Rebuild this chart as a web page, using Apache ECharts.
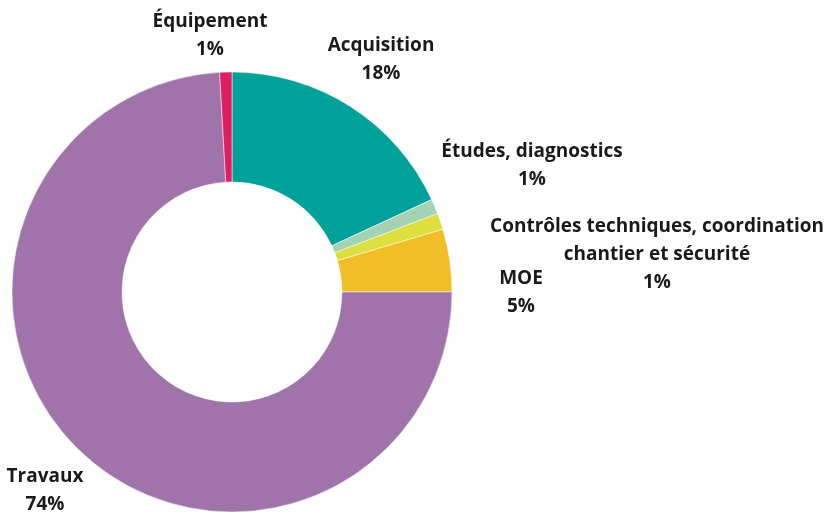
<!DOCTYPE html>
<html>
<head>
<meta charset="utf-8">
<script src="https://cdn.jsdelivr.net/npm/echarts@6/dist/echarts.min.js"></script>
<style>
  html, body { margin: 0; padding: 0; background: #fff; }
  #chart { width: 827px; height: 512px; }
</style>
</head>
<body>
<div id="chart"></div>
<script>
// budget split, clockwise from 12 o'clock
var categories = ['Acquisition', 'Études, diagnostics', 'Contrôles techniques, coordination\nchantier et sécurité', 'MOE', 'Travaux', 'Équipement'];
var shares = [18.1, 1.1, 1.2, 4.6, 74.1, 0.9];
var colors = ['#00a19a', '#a3d3b3', '#dddf3e', '#f2be27', '#a074ab', '#e01f63'];

// label block centres (px)
var labelPos = [[381, 60], [532, 166], [657, 255], [521, 293], [45, 491], [210, 36]];

var myChart = echarts.init(document.getElementById('chart'));

var pieData = [];
for (var i = 0; i < categories.length; i++) {
    pieData.push({ name: categories[i], value: shares[i], itemStyle: { color: colors[i] } });
}

myChart.setOption({
    animation: false,
    series: [{
        type: 'pie',
        center: [232, 292],
        radius: [110, 220],
        startAngle: 90,
        clockwise: true,
        avoidLabelOverlap: false,
        itemStyle: { borderColor: '#fff', borderWidth: 0.5 },
        emphasis: { disabled: true },
        label: {
            show: true,
            position: 'outside',
            fontFamily: 'Open Sans',
            fontWeight: 'bold',
            fontSize: 19,
            color: '#1a1a1a',
            lineHeight: 28,
            align: 'center',
            formatter: function (p) {
                return p.name + '\n' + Math.round(p.percent) + '%';
            }
        },
        labelLine: { show: false },
        labelLayout: function (params) {
            var pos = labelPos[params.dataIndex];
            return { x: pos[0], y: pos[1], align: 'center', verticalAlign: 'middle' };
        },
        data: pieData
    }]
});
</script>
</body>
</html>
